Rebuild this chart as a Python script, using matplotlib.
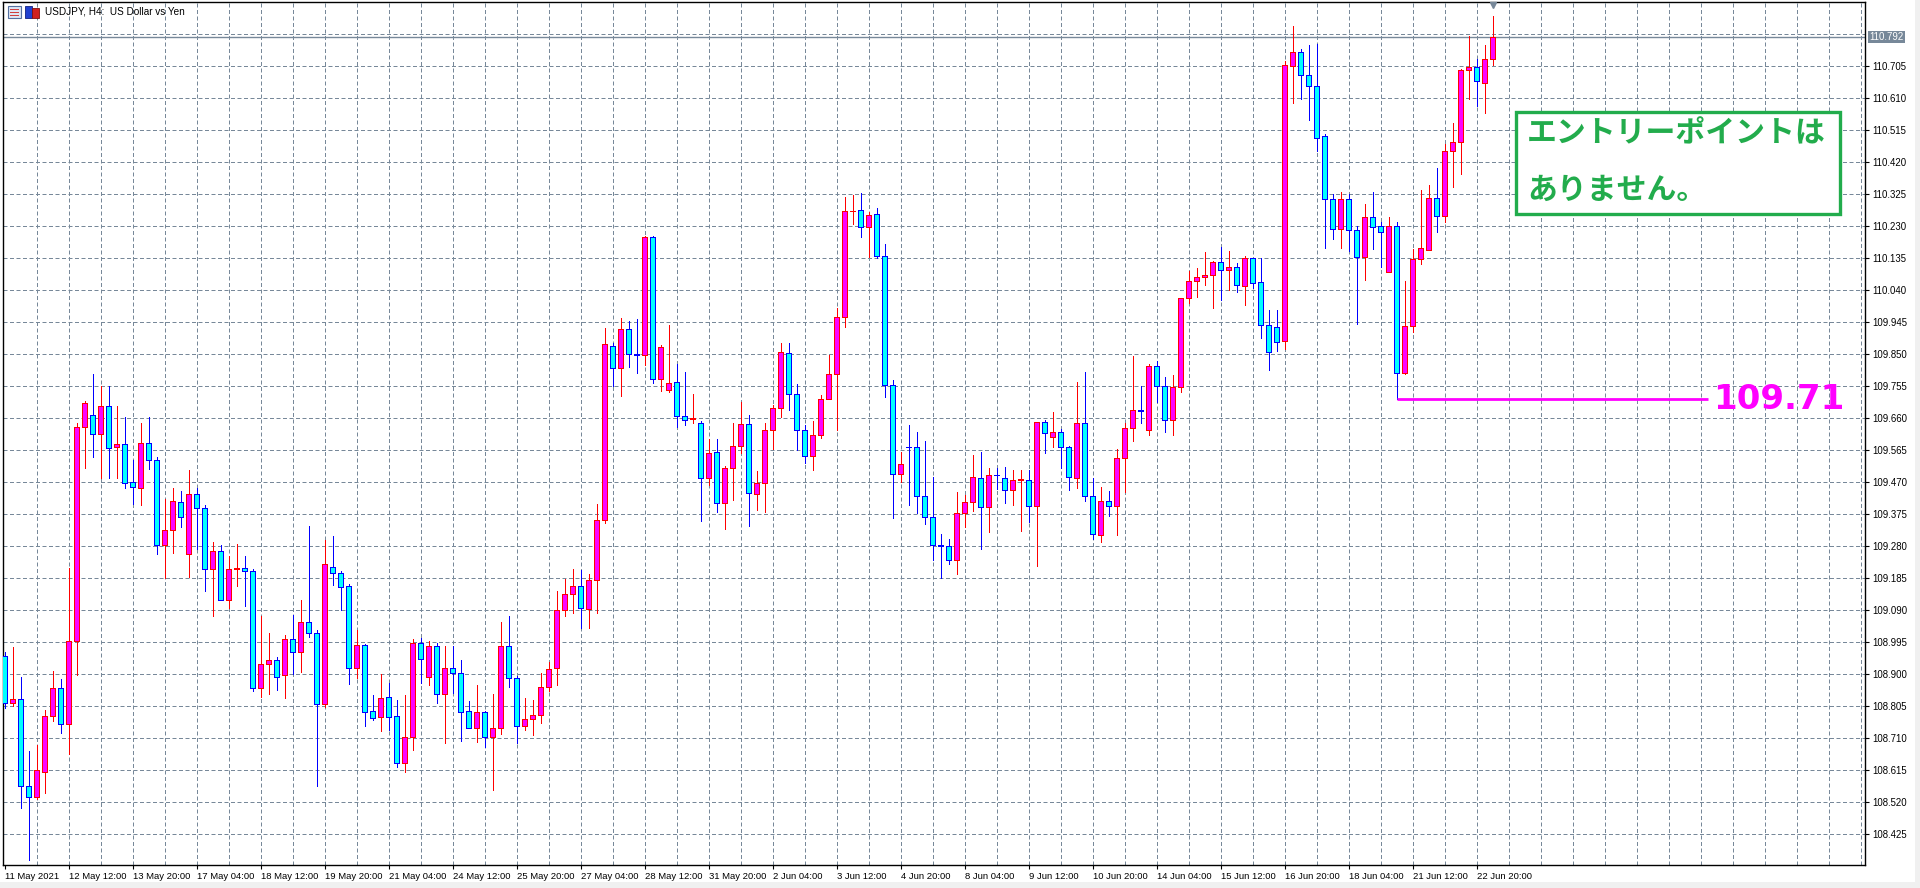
import matplotlib
matplotlib.use("Agg")
import matplotlib.pyplot as plt
import numpy as np
from matplotlib.patches import Rectangle

# USDJPY H4 candles, 11 May 2021 04:00 .. 23 Jun 2021 04:00
opens = [108.953, 108.814, 108.826, 108.570, 108.535, 108.609, 108.776, 108.858, 108.752, 108.999,
         109.633, 109.669, 109.613, 109.696, 109.574, 109.583, 109.471, 109.452, 109.586, 109.536,
         109.283, 109.330, 109.411, 109.256, 109.434, 109.393, 109.212, 109.265, 109.121, 109.212,
         109.215, 109.207, 108.858, 108.930, 108.942, 108.898, 109.004, 108.965, 109.054, 109.024,
         108.813, 109.220, 109.200, 109.162, 108.918, 108.986, 108.790, 108.774, 108.834, 108.775,
         108.636, 108.713, 108.992, 108.893, 108.983, 108.843, 108.918, 108.903, 108.790, 108.742,
         108.787, 108.715, 108.740, 108.983, 108.888, 108.748, 108.766, 108.778, 108.863, 108.918,
         109.091, 109.138, 109.162, 109.093, 109.180, 109.358, 109.876, 109.808, 109.926, 109.852,
         109.847, 110.198, 109.778, 109.745, 109.769, 109.666, 109.659, 109.645, 109.482, 109.559,
         109.408, 109.512, 109.577, 109.642, 109.435, 109.467, 109.624, 109.692, 109.855, 109.731,
         109.624, 109.547, 109.612, 109.716, 109.793, 109.961, 110.275, 110.278, 110.228, 110.266,
         110.142, 109.760, 109.494, 109.576, 109.575, 109.428, 109.366, 109.283, 109.280, 109.238,
         109.380, 109.413, 109.484, 109.398, 109.493, 109.484, 109.448, 109.478, 109.478, 109.401,
         109.649, 109.605, 109.620, 109.575, 109.484, 109.646, 109.428, 109.315, 109.416, 109.401,
         109.543, 109.632, 109.685, 109.626, 109.816, 109.756, 109.655, 109.753, 110.016, 110.069,
         110.081, 110.086, 110.124, 110.100, 110.109, 110.053, 110.136, 110.065, 109.938, 109.932,
         109.890, 110.707, 110.749, 110.678, 110.648, 110.497, 110.311, 110.222, 110.311, 110.219,
         110.139, 110.257, 110.231, 110.095, 110.231, 109.794, 109.935, 110.133, 110.160, 110.314,
         110.260, 110.453, 110.479, 110.693, 110.702, 110.657, 110.728]
highs = [108.965, 108.982, 108.893, 108.673, 108.690, 108.794, 108.910, 108.886, 109.215, 109.645,
         109.711, 109.792, 109.757, 109.757, 109.697, 109.663, 109.536, 109.647, 109.663, 109.544,
         109.421, 109.454, 109.444, 109.507, 109.452, 109.403, 109.294, 109.284, 109.251, 109.287,
         109.251, 109.212, 109.074, 109.022, 108.952, 109.017, 109.076, 109.121, 109.340, 109.033,
         109.300, 109.310, 109.207, 109.168, 109.031, 108.990, 108.838, 108.901, 108.873, 108.823,
         108.838, 109.004, 109.007, 109.000, 108.992, 108.984, 108.984, 108.942, 108.821, 108.868,
         108.790, 108.843, 109.056, 109.074, 108.895, 108.830, 108.823, 108.903, 108.937, 109.147,
         109.182, 109.212, 109.210, 109.198, 109.405, 109.929, 109.883, 109.959, 109.949, 109.955,
         110.202, 110.202, 109.879, 109.936, 109.821, 109.797, 109.731, 109.652, 109.599, 109.599,
         109.519, 109.646, 109.708, 109.669, 109.504, 109.646, 109.699, 109.885, 109.885, 109.761,
         109.639, 109.652, 109.728, 109.847, 109.988, 110.317, 110.323, 110.328, 110.272, 110.285,
         110.177, 109.775, 109.560, 109.639, 109.619, 109.594, 109.486, 109.317, 109.302, 109.440,
         109.432, 109.550, 109.560, 109.514, 109.514, 109.517, 109.506, 109.506, 109.508, 109.649,
         109.656, 109.680, 109.627, 109.579, 109.769, 109.798, 109.483, 109.455, 109.443, 109.570,
         109.646, 109.846, 109.757, 109.821, 109.830, 109.782, 109.788, 110.016, 110.096, 110.106,
         110.153, 110.126, 110.170, 110.158, 110.122, 110.143, 110.136, 110.136, 109.982, 109.982,
         110.722, 110.824, 110.755, 110.767, 110.770, 110.503, 110.325, 110.331, 110.327, 110.231,
         110.295, 110.331, 110.244, 110.257, 110.243, 110.068, 110.163, 110.338, 110.352, 110.403,
         110.475, 110.537, 110.696, 110.794, 110.727, 110.768, 110.854]
lows = [108.800, 108.806, 108.502, 108.349, 108.529, 108.549, 108.762, 108.725, 108.663, 108.898,
        109.512, 109.544, 109.484, 109.484, 109.484, 109.454, 109.406, 109.403, 109.511, 109.257,
        109.185, 109.261, 109.338, 109.190, 109.271, 109.148, 109.074, 109.121, 109.096, 109.163,
        109.104, 108.852, 108.834, 108.841, 108.853, 108.831, 108.901, 108.908, 109.011, 108.569,
        108.802, 109.165, 109.091, 108.871, 108.890, 108.746, 108.764, 108.732, 108.734, 108.626,
        108.611, 108.675, 108.875, 108.868, 108.815, 108.697, 108.845, 108.703, 108.742, 108.700,
        108.683, 108.556, 108.723, 108.863, 108.697, 108.734, 108.720, 108.756, 108.851, 108.868,
        109.074, 109.081, 109.039, 109.038, 109.083, 109.348, 109.755, 109.726, 109.812, 109.795,
        109.819, 109.765, 109.742, 109.738, 109.635, 109.639, 109.647, 109.354, 109.461, 109.381,
        109.331, 109.417, 109.558, 109.340, 109.388, 109.381, 109.570, 109.664, 109.685, 109.565,
        109.528, 109.508, 109.602, 109.716, 109.624, 109.931, 110.238, 110.197, 110.139, 110.135,
        109.724, 109.363, 109.471, 109.402, 109.378, 109.347, 109.239, 109.185, 109.228, 109.199,
        109.338, 109.386, 109.273, 109.323, 109.451, 109.409, 109.403, 109.325, 109.353, 109.221,
        109.557, 109.576, 109.514, 109.447, 109.453, 109.416, 109.303, 109.293, 109.370, 109.313,
        109.441, 109.594, 109.645, 109.611, 109.708, 109.619, 109.611, 109.739, 110.003, 110.021,
        110.055, 109.987, 110.011, 110.040, 110.034, 109.996, 110.048, 109.898, 109.804, 109.859,
        109.867, 110.595, 110.607, 110.545, 110.453, 110.165, 110.192, 110.165, 110.157, 109.941,
        110.071, 110.163, 110.108, 110.095, 109.717, 109.792, 109.916, 110.118, 110.160, 110.212,
        110.242, 110.348, 110.384, 110.609, 110.586, 110.567, 110.710]
closes = [108.814, 108.826, 108.570, 108.535, 108.616, 108.776, 108.858, 108.752, 108.999, 109.633,
          109.705, 109.613, 109.696, 109.571, 109.583, 109.469, 109.455, 109.586, 109.536, 109.283,
          109.330, 109.415, 109.366, 109.434, 109.393, 109.212, 109.265, 109.121, 109.212, 109.215,
          109.207, 108.858, 108.930, 108.942, 108.891, 109.004, 108.965, 109.054, 109.024, 108.813,
          109.229, 109.200, 109.160, 108.918, 108.986, 108.789, 108.769, 108.831, 108.774, 108.636,
          108.713, 108.992, 108.947, 108.983, 108.843, 108.918, 108.903, 108.789, 108.742, 108.787,
          108.713, 108.740, 108.983, 108.888, 108.748, 108.766, 108.778, 108.863, 108.915, 109.091,
          109.140, 109.162, 109.096, 109.180, 109.358, 109.880, 109.808, 109.926, 109.852, 109.849,
          110.198, 109.778, 109.873, 109.766, 109.666, 109.656, 109.661, 109.482, 109.556, 109.408,
          109.512, 109.577, 109.642, 109.438, 109.467, 109.624, 109.692, 109.858, 109.731, 109.624,
          109.547, 109.612, 109.716, 109.793, 109.961, 110.275, 110.277, 110.228, 110.263, 110.142,
          109.760, 109.494, 109.524, 109.574, 109.428, 109.366, 109.283, 109.280, 109.238, 109.380,
          109.413, 109.487, 109.396, 109.493, 109.491, 109.448, 109.478, 109.481, 109.401, 109.649,
          109.617, 109.620, 109.575, 109.487, 109.646, 109.428, 109.318, 109.416, 109.401, 109.543,
          109.632, 109.685, 109.682, 109.816, 109.756, 109.655, 109.753, 110.016, 110.069, 110.081,
          110.085, 110.124, 110.100, 110.109, 110.056, 110.136, 110.061, 109.938, 109.858, 109.887,
          110.710, 110.749, 110.678, 110.648, 110.491, 110.311, 110.222, 110.311, 110.219, 110.139,
          110.257, 110.228, 110.213, 110.231, 109.795, 109.935, 110.133, 110.166, 110.314, 110.260,
          110.453, 110.479, 110.693, 110.702, 110.660, 110.728, 110.792]

date_labels = ["11 May 2021", "12 May 12:00", "13 May 20:00", "17 May 04:00", "18 May 12:00",
               "19 May 20:00", "21 May 04:00", "24 May 12:00", "25 May 20:00", "27 May 04:00",
               "28 May 12:00", "31 May 20:00", "2 Jun 04:00", "3 Jun 12:00", "4 Jun 20:00",
               "8 Jun 04:00", "9 Jun 12:00", "10 Jun 20:00", "14 Jun 04:00", "15 Jun 12:00",
               "16 Jun 20:00", "18 Jun 04:00", "21 Jun 12:00", "22 Jun 20:00"]
date_bars = list(range(0, 8 * len(date_labels), 8))

price_ticks = [round(108.425 + 0.095 * k, 3) for k in range(25)]
last_price = 110.792
level_price = 109.717
level_text = "109.71"
note_lines = ["エントリーポイントは", "ありません。"]

GRID = "#778899"
W, H = 1920, 888
PX = 72 / 100  # one pixel in points

def fx(px):
    return px / W

def fy(py):
    return 1 - py / H

fig = plt.figure(figsize=(W / 100, H / 100), dpi=100)
fig.patch.set_facecolor("white")
ax = fig.add_axes([fx(3), fy(865), fx(1865) - fx(3), fy(2) - fy(865)])
ax.set_xlim(-0.21, 232.54)
ax.set_ylim(108.334, 110.896)

# grid
for p in price_ticks + [110.800]:
    ax.axhline(p, color=GRID, lw=PX, dashes=(4, 2.5), zorder=1)
for b in range(4, 233, 4):
    ax.axvline(b, color=GRID, lw=PX, dashes=(4, 2.5), zorder=1)

# current price line
ax.axhline(last_price, color=GRID, lw=1.0, zorder=2)

o = np.array(opens)
h = np.array(highs)
l = np.array(lows)
c = np.array(closes)
x = np.arange(len(o))
up = c > o
lo = np.minimum(o, c)
hh = np.abs(c - o)

ax.vlines(x[up], l[up], h[up], color="#ff0000", lw=PX, zorder=3, antialiased=False)
ax.vlines(x[~up], l[~up], h[~up], color="#0000ff", lw=PX, zorder=3, antialiased=False)
ax.bar(x[up], hh[up], 0.65, bottom=lo[up], color="#ff00ff", edgecolor="#ff0000", lw=PX,
       zorder=4, antialiased=False)
ax.bar(x[~up], hh[~up], 0.65, bottom=lo[~up], color="#00ffff", edgecolor="#0000ff", lw=PX,
       zorder=4, antialiased=False)

# level line + label
ax.plot([174, 212.9], [level_price, level_price], color="#ff00ff", lw=2.0, zorder=5, solid_capstyle="butt")
ax.text(213.6, level_price, level_text, color="#ff00ff", fontsize=24.5, weight="bold", va="center",
        ha="left", family="DejaVu Sans", zorder=6)

# chart shift marker
ax.plot([186], [110.886], marker="v", ms=5, color=GRID, clip_on=False, zorder=6)

# axes styling
for s in ax.spines.values():
    s.set_color("black")
    s.set_linewidth(1.0)
ax.set_xticks(date_bars)
ax.set_xticklabels(date_labels, fontsize=6.8, family="Liberation Sans")
for t in ax.get_xticklabels():
    t.set_ha("left")
ax.tick_params(axis="x", direction="out", length=3, width=0.8, pad=2)
ax.yaxis.tick_right()
ax.set_yticks(price_ticks)
ax.set_yticklabels([f"{p:.3f}" for p in price_ticks], fontsize=6.9, family="Liberation Sans")
ax.tick_params(axis="y", direction="out", length=3, width=0.8, pad=2)

ax.text(1.0025, last_price, f"{last_price:.3f}", transform=ax.get_yaxis_transform(),
        fontsize=6.9, family="Liberation Sans", color="white", va="center", ha="left",
        bbox=dict(boxstyle="square,pad=0.15", fc=GRID, ec="none"), zorder=7)

# title with little icons
fig.patches.append(Rectangle((fx(8), fy(18)), fx(13), 12 / H, transform=fig.transFigure,
                             fc="#dde6f5", ec="#5570a0", lw=0.8))
for yy in (9, 12, 15):
    fig.patches.append(Rectangle((fx(10), fy(yy + 1)), fx(9), 1.2 / H, transform=fig.transFigure,
                                 fc="#d04040", ec="none"))
fig.patches.append(Rectangle((fx(25), fy(18)), fx(7), 12 / H, transform=fig.transFigure,
                             fc="#2040d0", ec="#102080", lw=0.6))
fig.patches.append(Rectangle((fx(32), fy(18)), fx(7), 10 / H, transform=fig.transFigure,
                             fc="#d02020", ec="#801010", lw=0.6))
fig.text(fx(45), fy(12), "USDJPY, H4:  US Dollar vs Yen", fontsize=7.2, family="Liberation Sans",
         va="center", ha="left", color="black")

# note box
GREEN = "#22ac4c"
fig.patches.append(Rectangle((fx(1516), fy(214)), fx(1840) - fx(1516), (214 - 112) / H,
                             transform=fig.transFigure, fc="white", ec=GREEN, lw=2.4, zorder=10))
fig.text(fx(1527), fy(133), note_lines[0], fontsize=21.5, weight="bold", color=GREEN,
         family=["Noto Sans CJK JP", "DejaVu Sans"], va="center", ha="left", zorder=11)
fig.text(fx(1527), fy(190), note_lines[1], fontsize=21.5, weight="bold", color=GREEN,
         family=["Noto Sans CJK JP", "DejaVu Sans"], va="center", ha="left", zorder=11)

# window edge strips
fig.patches.append(Rectangle((fx(1915), 0), fx(5), 1, transform=fig.transFigure, fc="#f0f0f0", ec="none"))
fig.patches.append(Rectangle((0, 0), 1, 6 / H, transform=fig.transFigure, fc="#f0f0f0", ec="none"))

fig.savefig("out.png", dpi=100)
